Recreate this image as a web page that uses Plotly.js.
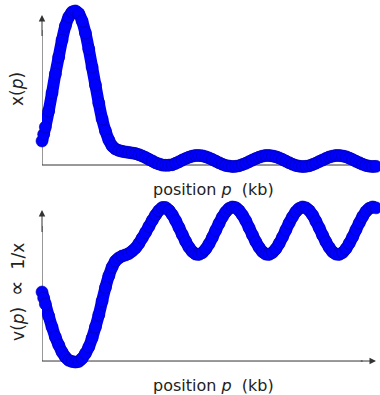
<!DOCTYPE html>
<html>
<head>
<meta charset="utf-8">
<script src="https://cdn.plot.ly/plotly-3.0.1.min.js"></script>
<style>html,body{margin:0;padding:0;background:#fff;}#chart{width:380px;height:395px;}</style>
</head>
<body>
<div id="chart"></div>
<script>
// position p (kb), shared by both panels
const positionP = [0,0.05,0.1,0.2,0.3,0.4,0.5,0.6,0.7,0.8,0.9,1.0,1.1,1.2,1.3,1.4,1.5,1.6,1.7,1.8,1.9,
2.0,2.1,2.2,2.3,2.4,2.5,2.6,2.7,2.8,2.9,3.0,3.1,3.2,3.3,3.4,3.5,3.6,3.7,3.8,3.9,
4.0,4.1,4.2,4.3,4.4,4.5,4.6,4.7,4.8,4.9,5.0,5.1,5.2,5.3,5.4,5.5,5.6,5.7,5.8,5.9,
6.0,6.1,6.2,6.3,6.4,6.5,6.6,6.7,6.8,6.9,7.0,7.1,7.2,7.3,7.4,7.5,7.6,7.7,7.8,7.9,
8.0,8.1,8.2,8.3,8.4,8.5,8.6,8.7,8.8,8.9,9.0,9.1,9.2,9.3,9.4,9.5,9.6,9.7,9.8,9.9,10.0];

// top panel: x(p)
const xOfP = [0.160,0.205,0.253,0.360,0.480,0.607,0.720,0.833,0.927,0.987,1.020,
1.027,1.010,0.960,0.880,0.773,0.653,0.533,0.413,0.307,0.227,
0.167,0.127,0.107,0.097,0.091,0.087,0.084,0.080,0.076,0.069,
0.060,0.050,0.038,0.027,0.015,0.007,0.000,-0.002,-0.001,0.002,
0.011,0.021,0.033,0.043,0.052,0.059,0.063,0.063,0.061,0.055,
0.047,0.037,0.026,0.015,0.005,-0.003,-0.007,-0.010,-0.009,-0.005,
0.003,0.011,0.022,0.033,0.043,0.052,0.059,0.063,0.063,0.060,
0.055,0.047,0.037,0.026,0.015,0.005,-0.003,-0.008,-0.010,-0.009,
-0.005,0.003,0.012,0.023,0.033,0.044,0.053,0.059,0.063,0.063,
0.060,0.055,0.046,0.036,0.025,0.015,0.005,-0.003,-0.008,-0.010,-0.009];

// bottom panel: v(p) ∝ 1/x
const vOfP = [0.460,0.420,0.380,0.300,0.227,0.160,0.107,0.060,0.027,0.005,-0.003,
-0.007,-0.003,0.017,0.050,0.093,0.153,0.227,0.307,0.400,0.490,
0.567,0.627,0.667,0.687,0.700,0.707,0.717,0.733,0.753,0.783,
0.820,0.857,0.897,0.937,0.973,1.003,1.023,1.023,1.005,0.975,
0.936,0.891,0.843,0.798,0.759,0.730,0.713,0.711,0.722,0.746,
0.781,0.823,0.871,0.917,0.960,0.994,1.017,1.027,1.022,1.003,
0.973,0.935,0.888,0.841,0.796,0.758,0.729,0.713,0.711,0.723,
0.747,0.783,0.826,0.873,0.920,0.961,0.995,1.017,1.027,1.021,
1.003,0.973,0.932,0.887,0.839,0.795,0.757,0.728,0.713,0.711,
0.723,0.748,0.785,0.827,0.875,0.921,0.963,0.997,1.018,1.027,1.021];

const xLabel = "position <i>p</i>&nbsp; (kb)";
const yLabelTop = "x(<i>p</i>)";
const yLabelBottom = "v(<i>p</i>)&nbsp;&nbsp;<span style=\"font-size:22px\">∝</span>&nbsp;&nbsp;1/x";

const markerStyle = {size: 12, color: "#0000ff", line: {color: "#0000a8", width: 0.6}};
const lineStyle = {color: "#0000ff", width: 12, shape: "spline"};

const traces = [
  {x: positionP, y: xOfP, xaxis: "x", yaxis: "y", type: "scatter", mode: "lines+markers",
   line: lineStyle, marker: markerStyle, cliponaxis: false, hoverinfo: "skip"},
  {x: positionP, y: vOfP, xaxis: "x2", yaxis: "y2", type: "scatter", mode: "lines+markers",
   line: lineStyle, marker: markerStyle, cliponaxis: false, hoverinfo: "skip"}
];

const axisColor = "#333";
const hidden = {visible: false, fixedrange: true};
const xFont = {family: "DejaVu Sans, sans-serif", size: 16, color: "#222"};
const yFont = {family: "DejaVu Sans, sans-serif", size: 17, color: "#222"};

function arrow(x, y, ax, ay, xr, yr) {
  return {x: x, y: y, ax: ax, ay: ay, xref: xr, yref: yr, axref: xr, ayref: yr,
    text: "", showarrow: true, arrowhead: 2, arrowsize: 1.3, arrowwidth: 1, arrowcolor: axisColor,
    standoff: 0, startstandoff: 0};
}

const layout = {
  width: 380, height: 395,
  margin: {l: 42, r: 4, t: 0, b: 0},
  paper_bgcolor: "#fff", plot_bgcolor: "#fff",
  showlegend: false,
  xaxis: Object.assign({domain: [0, 1], range: [0, 10], anchor: "y"}, hidden),
  xaxis2: Object.assign({domain: [0, 1], range: [0, 10], anchor: "y2"}, hidden),
  yaxis: Object.assign({domain: [0.5443, 1], range: [-0.1, 1.1], anchor: "x"}, hidden),
  yaxis2: Object.assign({domain: [0.0506, 0.5063], range: [-0.0933, 1.1067], anchor: "x2"}, hidden),
  shapes: [
    {type: "line", xref: "x", yref: "y", x0: 0, x1: 10, y0: 0, y1: 0, layer: "below", line: {color: axisColor, width: 1}},
    {type: "line", xref: "x", yref: "y", x0: 0, x1: 0, y0: 0, y1: 0.9, layer: "below", line: {color: axisColor, width: 1}},
    {type: "line", xref: "x2", yref: "y2", x0: 0, x1: 9.6, y0: 0, y1: 0, layer: "below", line: {color: axisColor, width: 1}},
    {type: "line", xref: "x2", yref: "y2", x0: 0, x1: 0, y0: 0, y1: 0.9, layer: "below", line: {color: axisColor, width: 1}}
  ],
  annotations: [
    arrow(0, 1.0, 0, 0.85, "x", "y"),
    arrow(0, 1.007, 0, 0.85, "x2", "y2"),
    arrow(10, 0, 9.5, 0, "x2", "y2"),
    {text: xLabel, xref: "paper", yref: "paper", x: 0.512, y: 0.519, showarrow: false,
     xanchor: "center", yanchor: "middle", font: xFont},
    {text: xLabel, xref: "paper", yref: "paper", x: 0.512, y: 0.0253, showarrow: false,
     xanchor: "center", yanchor: "middle", font: xFont},
    {text: yLabelTop, xref: "paper", yref: "paper", x: -0.0749, y: 0.7747, showarrow: false,
     textangle: -90, xanchor: "center", yanchor: "middle", font: yFont},
    {text: yLabelBottom, xref: "paper", yref: "paper", x: -0.0749, y: 0.261, showarrow: false,
     textangle: -90, xanchor: "center", yanchor: "middle", font: yFont}
  ]
};

Plotly.newPlot("chart", traces, layout, {displayModeBar: false, staticPlot: true});
</script>
</body>
</html>
